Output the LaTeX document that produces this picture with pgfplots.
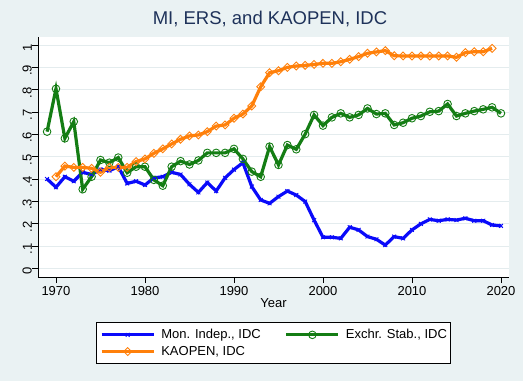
\documentclass[border=0pt]{standalone}
\usepackage{fontspec}
\setmainfont{Liberation Sans}
\usepackage{pgfplots}
\pgfplotsset{compat=1.18}
\definecolor{bgc}{RGB}{234,242,243}
\definecolor{gridc}{RGB}{228,236,238}
\definecolor{titc}{RGB}{30,50,90}
\definecolor{miblue}{RGB}{10,10,250}
\definecolor{ersgreen}{RGB}{20,125,20}
\definecolor{kaorange}{RGB}{255,128,10}

\pgfplotstableread{
year mi
1969 0.40
1970 0.363
1971 0.41
1972 0.39
1973 0.43
1974 0.42
1975 0.443
1976 0.437
1977 0.455
1978 0.38
1979 0.39
1980 0.373
1981 0.405
1982 0.41
1983 0.43
1984 0.42
1985 0.376
1986 0.34
1987 0.384
1988 0.346
1989 0.405
1990 0.442
1991 0.473
1992 0.366
1993 0.306
1994 0.291
1995 0.321
1996 0.346
1997 0.328
1998 0.299
1999 0.216
2000 0.139
2001 0.139
2002 0.134
2003 0.184
2004 0.172
2005 0.142
2006 0.13
2007 0.104
2008 0.142
2009 0.134
2010 0.172
2011 0.199
2012 0.219
2013 0.213
2014 0.219
2015 0.216
2016 0.224
2017 0.213
2018 0.213
2019 0.194
2020 0.19
}\mitable

\pgfplotstableread{
year ers
1969 0.612
1970 0.804
1971 0.582
1972 0.657
1973 0.354
1974 0.41
1975 0.485
1976 0.473
1977 0.496
1978 0.428
1979 0.455
1980 0.455
1981 0.396
1982 0.37
1983 0.455
1984 0.48
1985 0.465
1986 0.483
1987 0.517
1988 0.517
1989 0.517
1990 0.535
1991 0.49
1992 0.433
1993 0.41
1994 0.545
1995 0.463
1996 0.552
1997 0.533
1998 0.601
1999 0.687
2000 0.639
2001 0.676
2002 0.694
2003 0.676
2004 0.687
2005 0.716
2006 0.691
2007 0.694
2008 0.642
2009 0.652
2010 0.672
2011 0.682
2012 0.701
2013 0.704
2014 0.736
2015 0.682
2016 0.694
2017 0.704
2018 0.712
2019 0.721
2020 0.694
}\erstable

\pgfplotstableread{
year ka
1970 0.41
1971 0.458
1972 0.452
1973 0.452
1974 0.448
1975 0.43
1976 0.452
1977 0.452
1978 0.452
1979 0.478
1980 0.49
1981 0.515
1982 0.535
1983 0.557
1984 0.578
1985 0.593
1986 0.597
1987 0.612
1988 0.637
1989 0.642
1990 0.672
1991 0.691
1992 0.727
1993 0.813
1994 0.876
1995 0.885
1996 0.90
1997 0.906
1998 0.909
1999 0.913
2000 0.918
2001 0.918
2002 0.925
2003 0.936
2004 0.948
2005 0.963
2006 0.969
2007 0.975
2008 0.952
2009 0.951
2010 0.951
2011 0.951
2012 0.951
2013 0.951
2014 0.951
2015 0.945
2016 0.966
2017 0.97
2018 0.97
2019 0.985
}\katable

\begin{document}
\begin{tikzpicture}
\fill[bgc] (0,0) rectangle (523bp,381bp);
\useasboundingbox (0,0) rectangle (523bp,381bp);
\begin{axis}[
  at={(38bp,104bp)}, anchor=south west,
  scale only axis, width=471bp, height=240bp,
  xmin=1967.98, xmax=2020.9, ymin=-0.039, ymax=1.036,
  axis background/.style={fill=white},
  axis x line*=bottom, axis y line*=left,
  axis line style={line width=0.8bp, -, black},
  tick align=outside, major tick length=6bp,
  tick style={line width=0.8bp, black},
  xtick={1970,1980,1990,2000,2010,2020},
  ytick={0,0.1,0.2,0.3,0.4,0.5,0.6,0.7,0.8,0.9,1},
  yticklabels={0,.1,.2,.3,.4,.5,.6,.7,.8,.9,1},
  /pgf/number format/assume math mode=true,
  /pgf/number format/1000 sep={},
  ticklabel style={font=\fontsize{13bp}{15bp}\selectfont},
  yticklabel style={rotate=90, anchor=south, inner sep=0pt, xshift=-3bp},
  ymajorgrids, grid style={color=gridc, line width=0.9bp},
  xlabel={Year},
  xlabel style={at={(axis description cs:0.5,-0.11)}, anchor=center, font=\fontsize{13bp}{15bp}\selectfont},
  title={MI, ERS, and KAOPEN, IDC},
  title style={at={(axis description cs:0.5,1)}, anchor=base, yshift=7bp, xshift=-3.5bp, font=\fontsize{18.5bp}{22bp}\selectfont, text=titc},
  legend columns=2,
  legend image code/.code={
    \draw[mark repeat=2,mark phase=2,#1] plot coordinates {(0bp,0bp) (26bp,0bp) (52bp,0bp)};
  },
  legend style={
    at={(axis description cs:0.5,-0.1875)}, anchor=north,
    draw=black, line width=0.8bp, fill=white,
    inner xsep=4bp, inner ysep=7bp,
    font=\fontsize{13bp}{15bp}\selectfont,
    nodes={inner sep=0pt},
    cells={anchor=west},
    row sep=6bp,
    /tikz/every odd column/.append style={column sep=6bp},
    /tikz/every even column/.append style={column sep=24bp},
  },
]
\addplot[color=miblue, line width=3.2bp, mark=x, mark size=2.7bp, mark options={line width=0.9bp}] table[x=year, y=mi] {\mitable};
\addlegendentry{Mon. Indep., IDC}
\addplot[color=ersgreen, line width=3.2bp, mark=o, mark size=3.8bp, mark options={line width=0.9bp}] table[x=year, y=ers] {\erstable};
\addlegendentry{Exchr. Stab., IDC}
\addplot[color=kaorange, line width=3.2bp, mark=square, mark size=2.8bp, mark options={line width=0.9bp, rotate=45}] table[x=year, y=ka] {\katable};
\addlegendentry{KAOPEN, IDC}
\end{axis}
\end{tikzpicture}
\end{document}
